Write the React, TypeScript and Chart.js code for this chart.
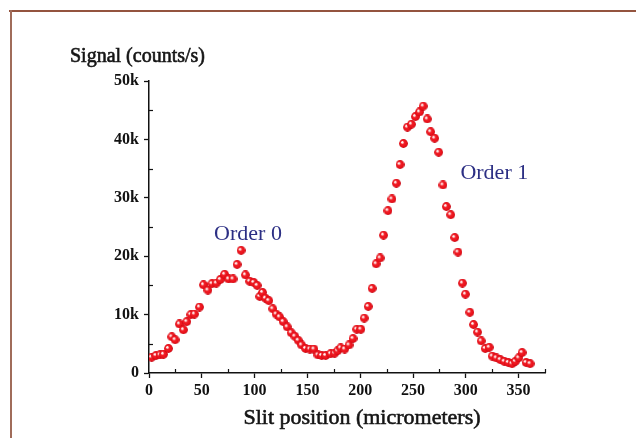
import React, { useEffect, useRef } from "react";
import { Chart, registerables } from "chart.js";

Chart.register(...registerables);

// Slit position (micrometers)
const slitPositions = [
  2.5, 6.6, 10.5, 13.7, 18.4, 21.6, 24.7, 28.8, 32.6, 35.8, 39.6, 43.0, 47.8,
  51.6, 55.8, 59.6, 63.7, 67.5, 71.6, 75.4, 79.6, 83.4, 87.2, 91.3, 95.4, 99.2,
  102.4, 104.9, 107.5, 110.3, 113.4, 117.2, 120.4, 123.6, 127.1, 130.9, 134.7,
  138.1, 141.3, 144.5, 148.3, 152.4, 156.2, 160.0, 163.5, 167.3, 172.0, 175.8,
  178.6, 181.5, 185.3, 189.4, 193.2, 196.7, 200.6, 203.8, 207.6, 211.3, 215.1,
  218.9, 222.1, 226.3, 230.1, 234.2, 237.7, 240.9, 244.7, 248.5, 252.3, 256.1,
  259.7, 263.5, 266.7, 270.5, 274.3, 278.4, 281.6, 285.7, 289.5, 292.6, 296.8,
  299.6, 303.8, 307.3, 311.1, 314.6, 318.4, 322.2, 325.0, 328.8, 332.6, 336.4,
  340.2, 343.8, 346.9, 350.1, 353.3, 357.1, 360.9,
];

// Signal (thousands of counts/s)
const signalK = [
  2.7, 3.0, 3.1, 3.2, 4.2, 6.2, 5.7, 8.4, 7.4, 8.8, 10.0, 10.1, 11.3,
  15.1, 14.2, 15.3, 15.4, 16.0, 16.9, 16.1, 16.1, 18.6, 21.0, 16.8, 15.7, 15.5,
  15.0, 13.1, 13.8, 12.8, 12.4, 11.0, 10.1, 9.6, 8.8, 7.9, 6.9,
  6.3, 5.6, 4.8, 4.2, 4.1, 4.1, 3.1, 3.0, 3.0, 3.3, 3.4,
  3.8, 4.3, 4.1, 4.8, 5.9, 7.5, 7.5, 9.4, 11.4, 14.5, 18.7,
  19.7, 23.6, 27.8, 29.8, 32.5, 35.7, 39.3, 42.1, 42.6, 43.9, 44.7,
  45.7, 43.5, 41.3, 40.2, 37.8, 32.2, 28.5, 27.1, 23.2, 20.7, 15.4,
  13.5, 10.4, 8.3, 7.0, 5.5, 4.2, 4.4, 2.9, 2.6, 2.3, 2.0,
  1.8, 1.6, 2.0, 2.6, 3.5, 1.8, 1.6,
];

const yTickValues = [0, 10000, 20000, 30000, 40000, 50000];
const xTickValues = [0, 50, 100, 150, 200, 250, 300, 350];

const annotationTexts = ["Order 0", "Order 1"];
const annotationX = [93.75, 327];
const annotationY = [22750, 33200];

const yTitle = "Signal (counts/s)";
const xTitle = "Slit position (micrometers)";

const SERIF = "'Liberation Serif', 'DejaVu Serif', serif";

function makeDot(): HTMLCanvasElement {
  const c = document.createElement("canvas");
  c.width = 9;
  c.height = 9;
  const g = c.getContext("2d")!;
  const grad = g.createRadialGradient(3.1, 3.1, 0.2, 4.5, 4.5, 4.6);
  grad.addColorStop(0, "#ffffff");
  grad.addColorStop(0.16, "#ffe0e0");
  grad.addColorStop(0.34, "#f2222a");
  grad.addColorStop(0.8, "#e80f18");
  grad.addColorStop(1, "#b5000c");
  g.fillStyle = grad;
  g.beginPath();
  g.arc(4.5, 4.5, 4.4, 0, Math.PI * 2);
  g.fill();
  return c;
}

function heavyText(ctx: CanvasRenderingContext2D, t: string, x: number, y: number, w: number) {
  ctx.fillText(t, x, y);
  ctx.lineWidth = w;
  ctx.strokeStyle = ctx.fillStyle as string;
  ctx.strokeText(t, x, y);
}

const decorPlugin = {
  id: "decor",
  afterDraw(chart: any) {
    const ctx = chart.ctx as CanvasRenderingContext2D;
    const xs = chart.scales.x;
    const ys = chart.scales.y;
    const area = chart.chartArea;
    ctx.save();
    ctx.strokeStyle = "#111";
    ctx.lineWidth = 1.2;
    // minor ticks (inward)
    for (let v = 5000; v < 50000; v += 10000) {
      const py = Math.round(ys.getPixelForValue(v)) + 0.5;
      ctx.beginPath();
      ctx.moveTo(area.left, py);
      ctx.lineTo(area.left + 4, py);
      ctx.stroke();
    }
    for (let v = 25; v <= 375; v += 50) {
      const px = Math.round(xs.getPixelForValue(v)) + 0.5;
      ctx.beginPath();
      ctx.moveTo(px, area.bottom);
      ctx.lineTo(px, area.bottom - 4);
      ctx.stroke();
    }
    // axis titles
    ctx.fillStyle = "#151515";
    ctx.font = `20px ${SERIF}`;
    ctx.textAlign = "left";
    ctx.textBaseline = "alphabetic";
    heavyText(ctx, yTitle, 70, 62, 0.6);
    ctx.font = `22px ${SERIF}`;
    ctx.textAlign = "center";
    heavyText(ctx, xTitle, (area.left + area.right) / 2 + 15, 424, 0.6);
    // annotations
    ctx.font = `22px ${SERIF}`;
    ctx.fillStyle = "#2c2f84";
    annotationTexts.forEach((t, i) => {
      ctx.fillText(
        t,
        xs.getPixelForValue(annotationX[i]),
        ys.getPixelForValue(annotationY[i])
      );
    });
    ctx.restore();
  },
};

export default function App() {
  const ref = useRef<HTMLCanvasElement>(null);

  useEffect(() => {
    if (!ref.current) return;
    const dot = makeDot();
    const data = slitPositions.map((x, i) => ({ x, y: signalK[i] * 1000 }));
    const tickFont = { family: SERIF, size: 16, weight: "bold" as const };
    const chart = new Chart(ref.current, {
      type: "scatter",
      data: {
        datasets: [
          {
            data,
            pointStyle: dot as any,
            pointRadius: 4.5,
            showLine: false,
          },
        ],
      },
      plugins: [decorPlugin],
      options: {
        animation: false,
        responsive: false,
        devicePixelRatio: 1,
        layout: { padding: { top: 81, right: 91, left: 0, bottom: 0 } },
        plugins: {
          legend: { display: false },
          tooltip: { enabled: false },
        },
        scales: {
          x: {
            type: "linear",
            min: 0,
            max: 375,
            afterBuildTicks: (s: any) => {
              s.ticks = xTickValues.map((value) => ({ value }));
            },
            afterFit: (s: any) => {
              s.height = 65;
            },
            ticks: {
              stepSize: 50,
              padding: 3,
              color: "#111",
              font: tickFont,
              maxRotation: 0,
            },
            grid: {
              drawOnChartArea: false,
              drawTicks: true,
              tickLength: 5,
              tickColor: "#111",
              tickWidth: 1.3,
            },
            border: { display: true, color: "#111", width: 1.5 },
          },
          y: {
            type: "linear",
            min: 0,
            max: 50000,
            afterBuildTicks: (s: any) => {
              s.ticks = yTickValues.map((value) => ({ value }));
            },
            afterFit: (s: any) => {
              s.width = 149;
            },
            ticks: {
              stepSize: 10000,
              padding: 5,
              color: "#111",
              font: tickFont,
              callback: (v: any) => (Number(v) === 0 ? "0" : Number(v) / 1000 + "k"),
            },
            grid: {
              drawOnChartArea: false,
              drawTicks: true,
              tickLength: 5,
              tickColor: "#111",
              tickWidth: 1.3,
            },
            border: { display: true, color: "#111", width: 1.5 },
          },
        },
      },
    });
    return () => chart.destroy();
  }, []);

  return (
    <div
      style={{
        position: "fixed",
        left: 0,
        top: 0,
        width: 636,
        height: 438,
        background: "#ffffff",
        overflow: "hidden",
      }}
    >
      <canvas
        ref={ref}
        width={636}
        height={438}
        style={{ position: "absolute", left: 0, top: 0, width: 636, height: 438 }}
      />
      <div
        style={{
          position: "absolute",
          left: 9,
          top: 10,
          width: 627,
          height: 2,
          background: "#94543f",
        }}
      />
      <div
        style={{
          position: "absolute",
          left: 10,
          top: 10,
          width: 2,
          height: 428,
          background: "#a06c5a",
        }}
      />
    </div>
  );
}
